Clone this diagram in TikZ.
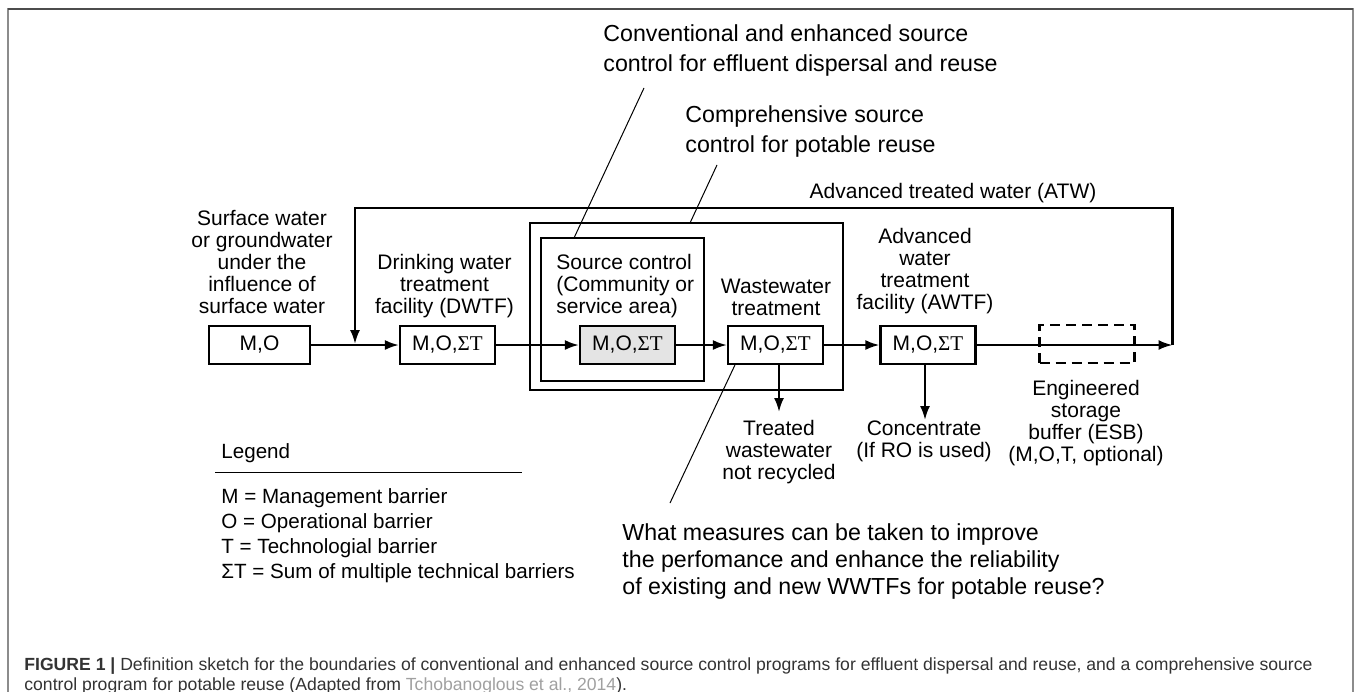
\documentclass[tikz,border=0pt]{standalone}
\usepackage{fontspec}
\setmainfont{Liberation Sans}
\newfontfamily\greekserif{Liberation Serif}
\usetikzlibrary{arrows.meta}
\definecolor{framegray}{HTML}{8C8C8C}
\definecolor{capgray}{HTML}{333333}
\definecolor{linkgray}{HTML}{A0A0A0}
\definecolor{srcfill}{HTML}{E4E4E4}
\newcommand{\sumT}{{\greekserif ΣT}}
\tikzset{
  >={Latex[length=7pt,width=5pt]},
  unit/.style={draw, line width=1.1pt, minimum width=47.5pt, minimum height=19pt, inner sep=0pt, font=\fontsize{10.5}{11}\selectfont},
  lbl/.style={align=center, inner sep=0pt, font=\fontsize{10.5}{11}\selectfont},
  note/.style={align=left, anchor=west, inner sep=0pt, font=\fontsize{11.6}{15}\selectfont},
  flow/.style={->, line width=1.1pt},
  leader/.style={line width=0.5pt}
}
\begin{document}
\begin{tikzpicture}[x=0.5pt,y=-0.5pt]
\useasboundingbox (0,0) rectangle (1360,691);
% frame
\draw[framegray, line width=1pt] (7.5,700) -- (7.5,8.5) -- (1352.5,8.5) -- (1352.5,700);
\draw[black!70, line width=1pt] (7.5,8.5) -- (1352.5,8.5);

% source control boundaries
\draw[line width=1.1pt] (530,223) rectangle (843,390);
\draw[line width=1.1pt] (541,238) rectangle (704,381);

\node[unit, minimum width=50.5pt] (mo) at (259.5,345) {M,O};
\node[unit] (dwtf) at (447.5,345) {M,O,\sumT};
\node[unit, fill=srcfill] (src) at (627.5,345) {M,O,\sumT};
\node[unit] (wwt) at (775.5,345) {M,O,\sumT};
\node[unit] (awtf) at (928,345) {M,O,\sumT};
\node[unit, dashed, dash pattern=on 5pt off 3pt] (esb) at (1087,344) {};

\coordinate (atwend) at (1172.5,345);
\coordinate (atwtopright) at (1172.5,208);
\coordinate (atwtopleft) at (355,208);
\coordinate (atwin) at (355,344);
\coordinate (twout) at (779,412);
\coordinate (concout) at (925,420);

\draw[flow] (mo) -- (dwtf);
\draw[flow] (dwtf) -- (src);
\draw[flow] (src) -- (wwt);
\draw[flow] (wwt) -- (awtf);
\draw[flow] (awtf) -- (atwend);
\draw[flow] (atwend) -- (atwtopright) -- (atwtopleft) -- (atwin);
\draw[flow] (twout |- wwt.south) -- (twout);
\draw[flow] (concout |- awtf.south) -- (concout);

\node[lbl] (surfacelbl) at (262,261.5) {Surface water\\or groundwater\\under the\\influence of\\surface water};
\node[lbl] (dwtflbl) at (444.5,286) {Drinking water\\treatment\\facility (DWTF)};
\node[lbl, align=left, anchor=west] (srclbl) at (556,286) {Source control\\(Community or\\service area)};
\node[lbl] (wwtlbl) at (776,297.5) {Wastewater\\treatment};
\node[lbl] (awtflbl) at (925,271) {Advanced\\water\\treatment\\facility (AWTF)};
\node[lbl] (atwlbl) at (953,193) {Advanced treated water (ATW)};
\node[lbl] (twlbl) at (779,452) {Treated\\wastewater\\not recycled};
\node[lbl] (conclbl) at (924,441) {Concentrate\\(If RO is used)};
\node[lbl] (esblbl) at (1086,423.5) {Engineered\\storage\\buffer (ESB)\\(M,O,T, optional)};

% leaders
\node[note] (convlbl) at (603,50) {Conventional and enhanced source\\control for effluent dispersal and reuse};
\node[note] (complbl) at (685,131) {Comprehensive source\\control for potable reuse};
\node[note, font=\fontsize{11.6}{13.3}\selectfont] (qlbl) at (622,561.5) {What measures can be taken to improve\\the perfomance and enhance the reliability\\of existing and new WWTFs for potable reuse?};
\coordinate (convtip) at (644,88);
\coordinate (convend) at (574,238);
\coordinate (comptip) at (717,165);
\coordinate (compend) at (690,223);
\coordinate (qtip) at (670,503);
\draw[leader] (convtip) -- (convend);
\draw[leader] (comptip) -- (compend);
\draw[leader] ([xshift=4pt]wwt.south west) -- (qtip);

% legend
\node[anchor=west, inner sep=0pt, font=\fontsize{10.3}{12.5}\selectfont] (legendhead) at (221,453) {Legend};
\draw[line width=0.8pt] (215,472.5) -- (522,472.5);
\node[anchor=west, align=left, inner sep=0pt, font=\fontsize{10.3}{12.5}\selectfont] (legendbody) at (221,535.5) {M = Management barrier\\O = Operational barrier\\T = Technologial barrier\\ΣT = Sum of multiple technical barriers};

\node[anchor=west, align=left, inner sep=0pt, text=capgray, font=\fontsize{8.8}{9.6}\selectfont] (caption) at (24,676) {\textbf{FIGURE 1 |} Definition sketch for the boundaries of conventional and enhanced source control programs for effluent dispersal and reuse, and a comprehensive source\\control program for potable reuse (Adapted from \textcolor{linkgray}{Tchobanoglous et al., 2014}).};
\end{tikzpicture}
\end{document}
